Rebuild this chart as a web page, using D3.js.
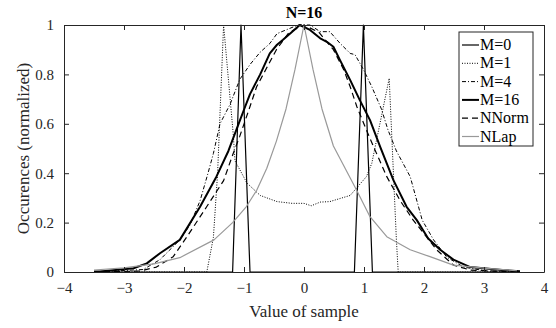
<!DOCTYPE html>
<html>
<head>
<meta charset="utf-8">
<script src="https://cdn.jsdelivr.net/npm/d3@7"></script>
</head>
<body style="margin:0">
<svg id="chart" width="556" height="328"></svg>
<script>
// values: [sample value, normalized occurrences]
const m0 = [[-3.5, 0], [-1.19, 0], [-1.05, 1], [-0.9, 0], [0.84, 0], [0.99, 1], [1.14, 0], [3.6, 0]];
const m1 = [[-3.5, 0], [-1.62, 0], [-1.51, 0.14], [-1.44, 0.4], [-1.34, 1], [-1.18, 0.56], [-1.15, 0.45],
  [-0.95, 0.36], [-0.73, 0.31], [-0.45, 0.285], [-0.2, 0.278], [0, 0.278], [0.12, 0.268], [0.27, 0.283],
  [0.43, 0.285], [0.77, 0.31], [1.04, 0.386], [1.13, 0.44], [1.42, 0.784], [1.54, 0.13], [1.57, 0], [3.6, 0]];
const m4 = [[-3.5, 0], [-2.68, 0.01], [-2.4, 0.05], [-2.07, 0.13], [-1.9, 0.19], [-1.73, 0.29], [-1.6, 0.4],
  [-1.51, 0.48], [-1.4, 0.6], [-1.23, 0.68], [-1.07, 0.78], [-0.9, 0.84], [-0.73, 0.89], [-0.57, 0.925],
  [-0.45, 0.965], [-0.3, 0.98], [-0.1, 1], [0.1, 1], [0.27, 0.973], [0.43, 0.973], [0.6, 0.926],
  [0.77, 0.885], [0.85, 0.88], [0.99, 0.82], [1.13, 0.75], [1.29, 0.66], [1.4, 0.575], [1.54, 0.49],
  [1.77, 0.386], [1.97, 0.21], [2.16, 0.13], [2.38, 0.06], [2.66, 0.02], [3.04, 0.004], [3.6, 0]];
const m16 = [[-3.5, 0.002], [-3.4, 0.002], [-2.84, 0.015], [-2.62, 0.035], [-2.4, 0.076], [-2.07, 0.13],
  [-1.73, 0.265], [-1.46, 0.386], [-1.26, 0.49], [-1.09, 0.6], [-0.98, 0.67], [-0.9, 0.72], [-0.73, 0.8],
  [-0.57, 0.885], [-0.45, 0.92], [-0.35, 0.94], [-0.23, 0.966], [-0.07, 1], [0.1, 0.98], [0.27, 0.946],
  [0.38, 0.932], [0.49, 0.912], [0.6, 0.858], [0.77, 0.777], [0.93, 0.696], [1.1, 0.615], [1.27, 0.507],
  [1.49, 0.372], [1.71, 0.264], [1.88, 0.21], [2.07, 0.136], [2.27, 0.09], [2.49, 0.05], [2.77, 0.02],
  [3.3, 0.008], [3.6, 0.003]];
const nNorm = [[-3.5, 0], [-2.73, 0.004], [-2.46, 0.02], [-2.18, 0.062], [-1.95, 0.143], [-1.62, 0.265],
  [-1.34, 0.37], [-1.18, 0.48], [-1.07, 0.55], [-0.9, 0.67], [-0.79, 0.75], [-0.46, 0.9], [-0.25, 0.97],
  [0, 1], [0.25, 0.97], [0.49, 0.9], [0.66, 0.82], [0.77, 0.75], [0.88, 0.67], [1.04, 0.575],
  [1.16, 0.507], [1.38, 0.386], [1.6, 0.29], [1.82, 0.21], [2.04, 0.143], [2.21, 0.09], [2.49, 0.028],
  [2.77, 0.008], [3.6, 0]];
const nLap = [[-3.5, 0.008], [-3, 0.017], [-2.5, 0.033], [-2.07, 0.058], [-1.5, 0.13], [-1.19, 0.2],
  [-0.96, 0.265], [-0.79, 0.33], [-0.62, 0.42], [-0.46, 0.53], [-0.3, 0.66], [-0.15, 0.82], [0, 1],
  [0.15, 0.82], [0.3, 0.66], [0.49, 0.51], [0.88, 0.33], [1.1, 0.224], [1.38, 0.143], [1.77, 0.09],
  [2.1, 0.062], [2.49, 0.028], [3.04, 0.015], [3.55, 0.005]];

const seriesNames = ['M=0', 'M=1', 'M=4', 'M=16', 'NNorm', 'NLap'];
const seriesData = [m0, m1, m4, m16, nNorm, nLap];
const xTicks = [-4, -3, -2, -1, 0, 1, 2, 3, 4];
const yTicks = [0, 0.2, 0.4, 0.6, 0.8, 1];

// line looks per series, same order as seriesNames
const styles = [
  { stroke: '#000', width: 1.2, dash: null },
  { stroke: '#000', width: 1, dash: '1,1.5' },
  { stroke: '#000', width: 1, dash: '4,2,1,2' },
  { stroke: '#000', width: 2, dash: null },
  { stroke: '#000', width: 1.2, dash: '6,4' },
  { stroke: '#999', width: 1.2, dash: null },
];

const fontName = '"Liberation Serif"';
const margin = { top: 25, right: 12, bottom: 56, left: 64 };
const width = 556, height = 328;
const svg = d3.select('#chart');

const x = d3.scaleLinear().domain([-4, 4]).range([margin.left, width - margin.right]);
const y = d3.scaleLinear().domain([0, 1]).range([height - margin.bottom, margin.top]);
const axisColor = '#262626';

const fmt = (d) => (d === 0 || d === 1 ? String(d) : d3.format('.1f')(d));
// serif text, forced so no other rule can win
const serifText = (sel, size) => sel
  .style('font-family', fontName, 'important')
  .style('font-size', `${size}px`, 'important');

// curves
const line = d3.line().x((d) => x(d[0])).y((d) => y(d[1]));
const curves = svg.append('g');
seriesData.forEach((data, i) => {
  curves.append('path')
    .datum(data)
    .attr('d', line)
    .attr('fill', 'none')
    .attr('stroke', styles[i].stroke)
    .attr('stroke-width', styles[i].width)
    .attr('stroke-dasharray', styles[i].dash)
    .attr('stroke-linejoin', 'round');
});

// axes with inward ticks on all four sides
const styleAxis = (g) => {
  g.attr('font-family', null).attr('font-size', null);
  g.select('.domain').attr('stroke', axisColor).attr('stroke-width', 1);
  g.selectAll('.tick line').attr('stroke', axisColor);
  g.selectAll('.tick text').attr('fill', axisColor).call(serifText, 15);
};

svg.append('g')
  .attr('transform', `translate(0,${y(0)})`)
  .call(d3.axisBottom(x).tickValues(xTicks).tickFormat(d3.format('d')).tickSizeInner(-5).tickSizeOuter(0).tickPadding(10))
  .call(styleAxis);
svg.append('g')
  .attr('transform', `translate(0,${y(1)})`)
  .call(d3.axisTop(x).tickValues(xTicks).tickFormat('').tickSizeInner(-5).tickSizeOuter(0))
  .call(styleAxis);
svg.append('g')
  .attr('transform', `translate(${x(-4)},0)`)
  .call(d3.axisLeft(y).tickValues(yTicks).tickFormat(fmt).tickSizeInner(-5).tickSizeOuter(0).tickPadding(10))
  .call(styleAxis);
svg.append('g')
  .attr('transform', `translate(${x(4)},0)`)
  .call(d3.axisRight(y).tickValues(yTicks).tickFormat('').tickSizeInner(-5).tickSizeOuter(0))
  .call(styleAxis);

// title and labels
svg.append('text')
  .attr('x', x(0)).attr('y', 18)
  .attr('text-anchor', 'middle')
  .attr('fill', '#000')
  .call(serifText, 16)
  .style('font-weight', 'bold', 'important')
  .text('N=16');
svg.append('text')
  .attr('x', x(0)).attr('y', 317)
  .attr('text-anchor', 'middle')
  .attr('fill', axisColor)
  .call(serifText, 17)
  .text('Value of sample');
svg.append('text')
  .attr('transform', `translate(29,${y(0.5)}) rotate(-90)`)
  .attr('text-anchor', 'middle')
  .attr('fill', axisColor)
  .call(serifText, 17)
  .text('Occurences (normalized)');

// legend
const legend = svg.append('g').attr('transform', 'translate(459,32)');
legend.append('rect')
  .attr('width', 74).attr('height', 114)
  .attr('fill', '#fff')
  .attr('stroke', axisColor).attr('stroke-width', 1);
seriesNames.forEach((name, i) => {
  const yy = 13 + i * 18.3;
  legend.append('line')
    .attr('x1', 3).attr('x2', 20).attr('y1', yy).attr('y2', yy)
    .attr('stroke', styles[i].stroke)
    .attr('stroke-width', styles[i].width)
    .attr('stroke-dasharray', styles[i].dash);
  legend.append('text')
    .attr('x', 21).attr('y', yy + 5)
    .attr('fill', '#000')
    .call(serifText, 16)
    .text(name);
});
</script>
</body>
</html>
